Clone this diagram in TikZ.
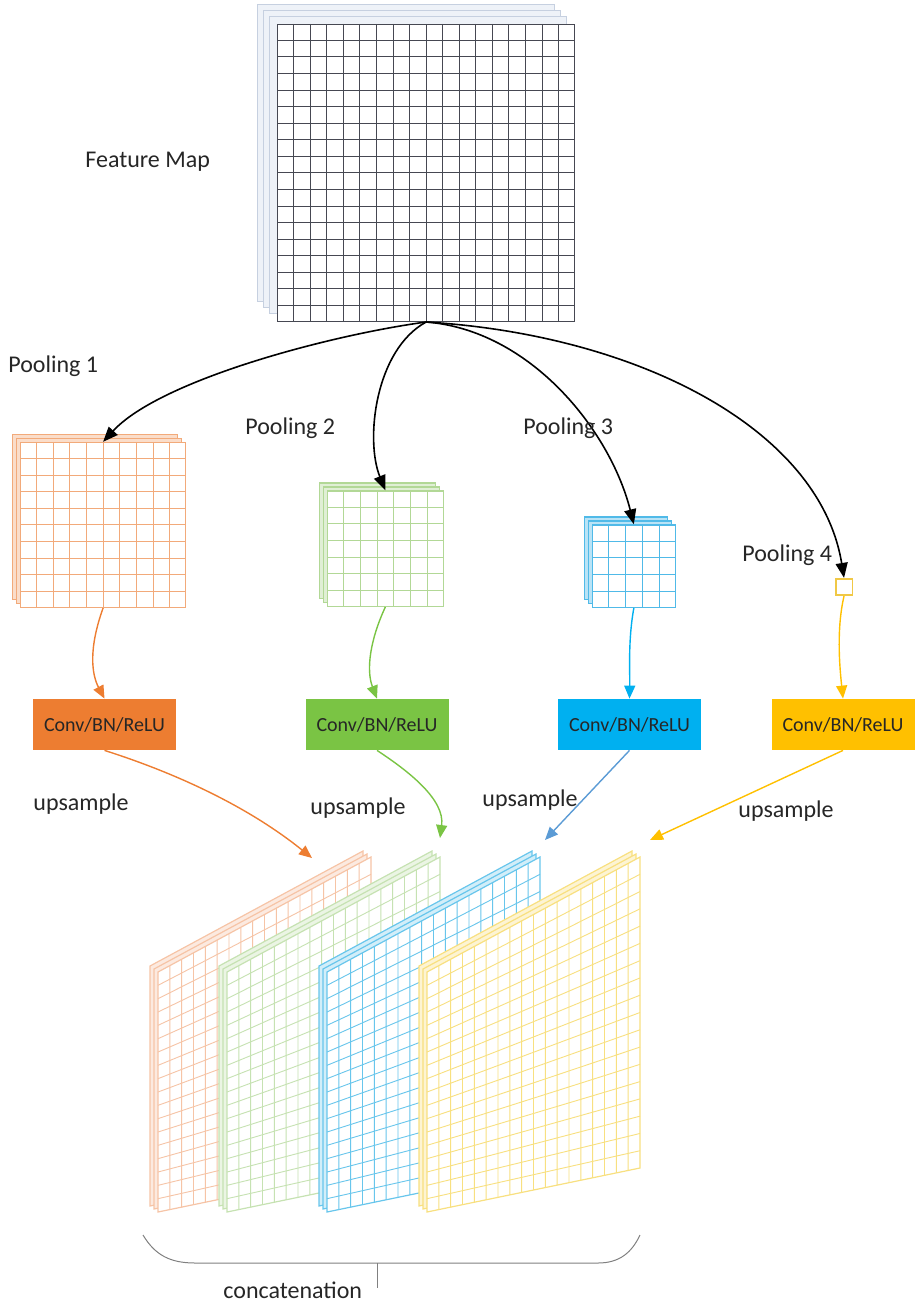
\documentclass[tikz,border=0pt]{standalone}
\usepackage{fontspec}
\setmainfont{Carlito}
\usetikzlibrary{arrows.meta,calc,shadows}

\definecolor{fmline}{RGB}{70,72,82}
\definecolor{fmback}{RGB}{238,242,248}
\definecolor{fmedge}{RGB}{198,208,224}
\definecolor{orgbox}{RGB}{237,125,49}
\definecolor{grnbox}{RGB}{122,196,68}
\definecolor{blubox}{RGB}{0,176,240}
\definecolor{ylwbox}{RGB}{255,192,0}
\definecolor{upblue}{RGB}{91,155,213}
\definecolor{orggrid}{RGB}{242,170,122}
\definecolor{grngrid}{RGB}{178,216,150}
\definecolor{blugrid}{RGB}{80,186,232}
\definecolor{ylwgrid}{RGB}{240,200,70}
\definecolor{orgslab}{RGB}{246,196,166}
\definecolor{grnslab}{RGB}{198,226,178}
\definecolor{bluslab}{RGB}{104,198,236}
\definecolor{ylwslab}{RGB}{248,224,128}
\definecolor{bracegray}{RGB}{128,128,128}

% inner lines of a square map node: node, cells, colour
\newcommand{\cellgrid}[3]{%
  \pgfmathtruncatemacro{\lastline}{#2-1}
  \foreach \i in {1,...,\lastline}{
    \draw[#3, line width=0.45pt]
      ($(#1.north west)!\i/#2!(#1.north east)$) -- ($(#1.south west)!\i/#2!(#1.south east)$)
      ($(#1.north west)!\i/#2!(#1.south west)$) -- ($(#1.north east)!\i/#2!(#1.south east)$);
  }}

% upsampled map seen in perspective: name, left x, line colour, back fill
\newcommand{\slab}[4]{%
  \coordinate (#1-tl) at (#2,972);
  \coordinate (#1-tr) at (#2+213,857);
  \coordinate (#1-br) at (#2+213,1168);
  \coordinate (#1-bl) at (#2,1212);
  \foreach \dx/\dy in {8/6,4/3}
    \filldraw[fill=#4, draw=#3, line width=0.6pt]
      ($(#1-tl)+(-\dx,-\dy)$) -- ($(#1-tr)+(-\dx,-\dy)$) --
      ($(#1-br)+(-\dx,-\dy)$) -- ($(#1-bl)+(-\dx,-\dy)$) -- cycle;
  \filldraw[fill=white, draw=#3, line width=0.6pt]
    (#1-tl) -- (#1-tr) -- (#1-br) -- (#1-bl) -- cycle;
  \foreach \i in {1,...,17}
    \draw[#3, line width=0.45pt]
      ($(#1-tl)!\i/18!(#1-tr)$) -- ($(#1-bl)!\i/18!(#1-br)$)
      ($(#1-tl)!\i/18!(#1-bl)$) -- ($(#1-tr)!\i/18!(#1-br)$);
}

\begin{document}
\begin{tikzpicture}[
    x=0.5pt, y=-0.5pt,
    fmap/.style={draw=fmline, fill=white, line width=0.6pt, inner sep=0pt,
      anchor=south west, minimum size=148.5pt,
      copy shadow={shadow xshift=-10pt, shadow yshift=10pt, opacity=1, fill=fmback, draw=fmedge},
      copy shadow={shadow xshift=-7pt, shadow yshift=7pt, opacity=1, fill=fmback, draw=fmedge},
      copy shadow={shadow xshift=-4pt, shadow yshift=4pt, opacity=1, fill=fmback, draw=fmedge}},
    pmap/.style={draw=#1, fill=white, line width=0.6pt, inner sep=0pt, anchor=south west,
      copy shadow={shadow xshift=-4pt, shadow yshift=4pt, opacity=1, fill=#1!40, draw=#1},
      copy shadow={shadow xshift=-2pt, shadow yshift=2pt, opacity=1, fill=#1!40, draw=#1}},
    convbox/.style={minimum width=71.5pt, minimum height=25.5pt, inner sep=0pt,
      font=\fontsize{10}{12}\selectfont, text=black!85},
    lbl/.style={font=\fontsize{12}{14}\selectfont, inner sep=0pt, anchor=base west, text=black!85},
    pool/.style={-{Triangle[length=7.5pt,width=6pt]}, line width=0.8pt},
    feed/.style={-{Triangle[length=6.5pt,width=5.5pt]}, line width=0.7pt}
  ]
  \useasboundingbox (0,0) rectangle (916,1303);

  % input feature map
  \node[fmap] (fm) at (277,322) {};
  \cellgrid{fm}{18}{fmline}

  % pooled maps
  \node[pmap=orggrid, minimum size=82.5pt] (p1) at (20,608) {};
  \cellgrid{p1}{10}{orggrid}
  \node[pmap=grngrid, minimum size=57.75pt] (p2) at (327,607) {};
  \cellgrid{p2}{7}{grngrid}
  \node[pmap=blugrid, minimum size=41.25pt] (p3) at (592,608) {};
  \cellgrid{p3}{5}{blugrid}
  \node[draw=ylwgrid, fill=white, line width=0.8pt, inner sep=0pt, anchor=south west,
    minimum size=8.25pt] (p4) at (835,596) {};

  \draw[pool] (fm.south) .. controls (330,335) and (160,380) .. (p1.north);
  \draw[pool] (fm.south) .. controls (375,350) and (365,440) .. (p2.north);
  \draw[pool] (fm.south) .. controls (530,330) and (610,430) .. (p3.north);
  \draw[pool] (fm.south) .. controls (640,335) and (820,430) .. (p4.north);

  % conv blocks
  \node[convbox, fill=orgbox] (c1) at (104.5,724.5) {Conv/BN/ReLU};
  \node[convbox, fill=grnbox] (c2) at (377,724.5) {Conv/BN/ReLU};
  \node[convbox, fill=blubox] (c3) at (629.5,724.5) {Conv/BN/ReLU};
  \node[convbox, fill=ylwbox] (c4) at (843,724.5) {Conv/BN/ReLU};

  \draw[feed, orgbox] (p1.south) .. controls (88,650) and (92,675) .. (c1.north);
  \draw[feed, grnbox] (p2.south) .. controls (370,640) and (366,670) .. (c2.north);
  \draw[feed, blubox] (p3.south) .. controls (628,640) and (630,670) .. (c3.north);
  \draw[feed, ylwbox] (p4.south) .. controls (836,630) and (840,670) .. (c4.north);

  % upsampled maps
  \slab{s1}{158}{orgslab}{orgslab!35}
  \slab{s2}{227}{grnslab}{grnslab!35}
  \slab{s3}{327}{bluslab}{bluslab!30}
  \slab{s4}{427}{ylwslab}{ylwslab!35}

  \coordinate (u1) at (312,858);
  \coordinate (u2) at (440,838);
  \coordinate (u3) at (545,840);
  \coordinate (u4) at (650,840);
  \draw[feed, orgbox] (c1.south) .. controls (160,768) and (240,800) .. (u1);
  \draw[feed, grnbox] (c2.south) .. controls (410,772) and (445,800) .. (u2);
  \draw[feed, upblue] (c3.south) -- (u3);
  \draw[feed, ylwbox] (c4.south) -- (u4);

  % concatenation brace
  \coordinate (brl) at (143,1235);
  \coordinate (brr) at (640,1235);
  \coordinate (brm) at (377,1263);
  \coordinate (brt) at (377,1288);
  \draw[bracegray, line width=0.5pt] (brl) .. controls (155,1255) and (170,1263) .. (195,1263)
    -- (598,1263) .. controls (620,1263) and (632,1252) .. (brr);
  \draw[bracegray, line width=0.5pt] (brm) -- (brt);

  % labels
  \node[lbl] (fmtxt) at (85,167) {Feature Map};
  \node[lbl] (pt1) at (8,372) {Pooling 1};
  \node[lbl] (pt2) at (245,434) {Pooling 2};
  \node[lbl] (pt3) at (523,434) {Pooling 3};
  \node[lbl] (pt4) at (742,561) {Pooling 4};
  \node[lbl] (ut1) at (33,810) {upsample};
  \node[lbl] (ut2) at (310,814) {upsample};
  \node[lbl] (ut3) at (482,806) {upsample};
  \node[lbl] (ut4) at (738,817) {upsample};
  \node[lbl] (cat) at (223,1298) {concatenation};
\end{tikzpicture}
\end{document}
